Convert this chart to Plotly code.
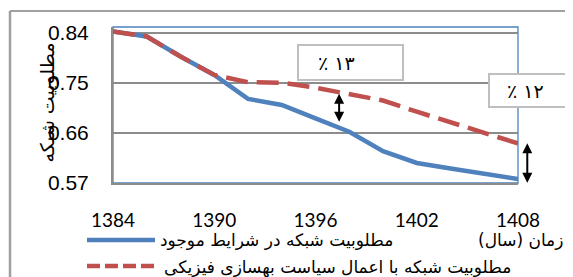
import plotly.graph_objects as go

# ---- data ----
years = [1384, 1386, 1388, 1390, 1392, 1394, 1396, 1398, 1400, 1402, 1404, 1406, 1408]
current = [0.842, 0.833, 0.797, 0.764, 0.721, 0.710, 0.686, 0.662, 0.627, 0.606, 0.596, 0.587, 0.577]
improved = [0.842, 0.833, 0.797, 0.764, 0.751, 0.750, 0.741, 0.730, 0.718, 0.698, 0.679, 0.659, 0.641]

x_ticks = [1384, 1390, 1396, 1402, 1408]
y_ticks = [0.57, 0.66, 0.75, 0.84]
y_tick_text = ["0.57", "0.66", "0.75", "0.84"]

name_current = "مطلوبیت شبکه در شرایط موجود"
name_improved = "مطلوبیت شبکه با اعمال سیاست بهسازی فیزیکی"
x_title = "زمان (سال)\u200f"
y_title = "مطلوبیت شبکه"
label_13 = "٪ ۱۳"
label_12 = "٪ ۱۲"

# gap arrows: (year, top value, bottom value)
arrow1 = (1397.4, 0.733, 0.680)
arrow2 = (1408.55, 0.644, 0.5705)

X_RANGE = [1384, 1408]
Y_RANGE = [0.57, 0.85]

BLUE = "#4f81bd"
RED = "#c0504d"
GRID = "#8c8c8c"
BOXLINE = "#bfbfbf"

# ---- layout geometry (page has an 8px body margin) ----
OFF = 8
W, H = 573 - OFF, 277 - OFF
PLOT_L, PLOT_R, PLOT_T, PLOT_B = 113, 518, 27, 183  # page pixels
L, R = PLOT_L - OFF, (W + OFF) - PLOT_R
T, B = PLOT_T - OFF, (H + OFF) - PLOT_B
PW, PH = PLOT_R - PLOT_L, PLOT_B - PLOT_T


def px(xpage):
    return (xpage - PLOT_L) / PW


def py(ypage):
    return (PLOT_B - ypage) / PH


def year_to_paper(y):
    return (y - X_RANGE[0]) / (X_RANGE[1] - X_RANGE[0])


fig = go.Figure()
fig.add_trace(go.Scatter(x=years, y=current, mode="lines", name=name_current,
                         line=dict(color=BLUE, width=4.5), showlegend=False))
fig.add_trace(go.Scatter(x=years, y=improved, mode="lines", name=name_improved,
                         line=dict(color=RED, width=4.5, dash="22px,9px"), showlegend=False))

shapes = []
shapes.append(dict(type="rect", xref="paper", yref="paper", x0=0, x1=1, y0=0, y1=1,
                   line=dict(color=BLUE, width=1.3), layer="below"))
shapes.append(dict(type="line", xref="paper", yref="paper", x0=px(10), x1=px(600),
                   y0=py(11), y1=py(11), line=dict(color="#a0a0a0", width=2)))
shapes.append(dict(type="line", xref="paper", yref="paper", x0=px(10), x1=px(10),
                   y0=py(11), y1=py(300), line=dict(color="#a0a0a0", width=2.5)))
shapes.append(dict(type="rect", xref="paper", yref="paper", x0=px(298), x1=px(403),
                   y0=py(80), y1=py(45), fillcolor="white",
                   line=dict(color=BOXLINE, width=2), layer="above"))
shapes.append(dict(type="rect", xref="paper", yref="paper", x0=px(489), x1=px(600),
                   y0=py(107), y1=py(74), fillcolor="white",
                   line=dict(color=BOXLINE, width=2), layer="above"))
shapes.append(dict(type="line", xref="paper", yref="paper", x0=px(87), x1=px(155),
                   y0=py(240), y1=py(240), line=dict(color=BLUE, width=4.5)))
shapes.append(dict(type="line", xref="paper", yref="paper", x0=px(87), x1=px(155),
                   y0=py(266), y1=py(266), line=dict(color=RED, width=4.5, dash="13px,5px")))

PFONT = "DejaVu Sans"
LEG = 17
annotations = []
annotations.append(dict(xref="paper", yref="paper", x=px(316), y=py(50), text=label_13,
                        xanchor="left", yanchor="top", showarrow=False,
                        font=dict(family=PFONT, size=19, color="black")))
annotations.append(dict(xref="paper", yref="paper", x=px(505), y=py(78), text=label_12,
                        xanchor="left", yanchor="top", showarrow=False,
                        font=dict(family=PFONT, size=19, color="black")))
annotations.append(dict(xref="paper", yref="paper", x=px(158), y=py(240), text=name_current,
                        xanchor="left", yanchor="middle", showarrow=False,
                        font=dict(family=PFONT, size=LEG, color="black")))
annotations.append(dict(xref="paper", yref="paper", x=px(162), y=py(267), text=name_improved,
                        xanchor="left", yanchor="middle", showarrow=False,
                        font=dict(family=PFONT, size=LEG, color="black")))
annotations.append(dict(xref="paper", yref="paper", x=px(565), y=py(240), text=x_title,
                        xanchor="right", yanchor="middle", showarrow=False,
                        font=dict(family=PFONT, size=LEG, color="black")))
annotations.append(dict(xref="paper", yref="paper", x=px(33), y=py(103), text=y_title,
                        textangle=-90, showarrow=False,
                        font=dict(family=PFONT, size=19, color="black")))
for (ax_year, top_v, bot_v) in (arrow1, arrow2):
    annotations.append(dict(xref="paper", yref="y", axref="pixel", ayref="y",
                            x=year_to_paper(ax_year), y=bot_v, ax=0, ay=top_v, text="",
                            showarrow=True, arrowside="end+start", arrowhead=2,
                            startarrowhead=2, arrowsize=1, startarrowsize=1,
                            arrowwidth=2, arrowcolor="black"))

fig.update_layout(
    width=W, height=H, margin=dict(l=L, r=R, t=T, b=B),
    paper_bgcolor="white", plot_bgcolor="white",
    shapes=shapes, annotations=annotations, showlegend=False,
    xaxis=dict(range=X_RANGE, tickvals=x_ticks, ticktext=[str(v) for v in x_ticks],
               showgrid=False, zeroline=False, showline=True, linecolor=GRID, linewidth=2,
               ticks="", ticklabelstandoff=19,
               tickfont=dict(family="Lato", size=19, color="black")),
    yaxis=dict(range=Y_RANGE, tickvals=y_ticks, ticktext=y_tick_text,
               showgrid=True, gridcolor=GRID, gridwidth=1.6, zeroline=False,
               showline=True, linecolor=GRID, linewidth=2,
               ticks="", ticklabelstandoff=18,
               tickfont=dict(family="Liberation Sans", size=21, color="black")),
)

fig.write_html("out.html")
